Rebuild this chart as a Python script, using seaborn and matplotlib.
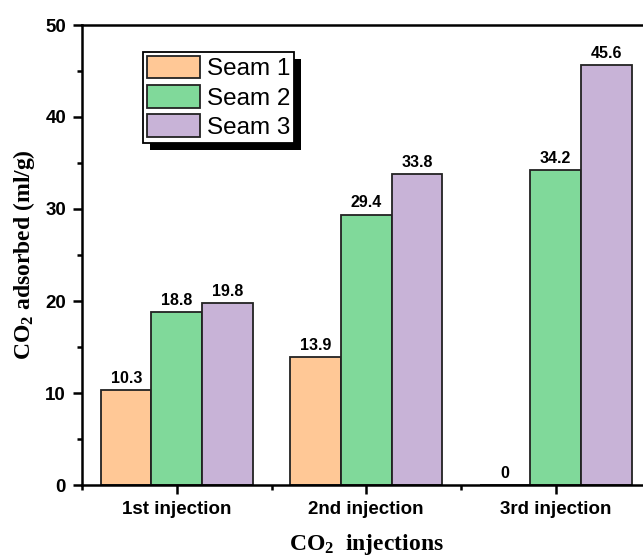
import matplotlib
matplotlib.use("Agg")
import matplotlib.pyplot as plt
import seaborn as sns
import pandas as pd
from matplotlib.patches import Rectangle
from matplotlib.ticker import MultipleLocator, FixedLocator

categories = ["1st injection", "2nd injection", "3rd injection"]
seams = ["Seam 1", "Seam 2", "Seam 3"]
seam1 = [10.3, 13.9, 0]
seam2 = [18.8, 29.4, 34.2]
seam3 = [19.8, 33.8, 45.6]
colors = ["#FFC896", "#80D99A", "#C8B3D7"]

df = pd.DataFrame({
    "injection": categories * 3,
    "seam": [s for s in seams for _ in categories],
    "value": seam1 + seam2 + seam3,
})

sns.set_style("ticks")
plt.rcParams["font.family"] = ["Liberation Sans", "DejaVu Sans"]
plt.rcParams["text.color"] = "black"
plt.rcParams["axes.labelcolor"] = "black"
plt.rcParams["xtick.color"] = "black"
plt.rcParams["ytick.color"] = "black"
plt.rcParams["mathtext.fontset"] = "custom"
plt.rcParams["mathtext.rm"] = "Liberation Serif:bold"
plt.rcParams["mathtext.it"] = "Liberation Serif:bold"
plt.rcParams["mathtext.bf"] = "Liberation Serif:bold"

fig = plt.figure(figsize=(6.43, 5.56), dpi=100)
ax = fig.add_axes([82 / 643, 71 / 556, 568.5 / 643, 460 / 556])

sns.barplot(data=df, x="injection", y="value", hue="seam", palette=colors,
            order=categories, hue_order=seams, edgecolor="#222222",
            linewidth=1.3, saturation=1, width=0.8, ax=ax, legend=True)

for cont in ax.containers:
    ax.bar_label(cont, fmt="%g", padding=3, fontsize=11.5, fontweight="bold",
                 color="black")

ax.set_xlim(-0.5, 2.5)
ax.set_ylim(0, 50)
ax.yaxis.set_major_locator(MultipleLocator(10))
ax.yaxis.set_minor_locator(MultipleLocator(5))
ax.xaxis.set_minor_locator(FixedLocator([-0.5, 0.5, 1.5, 2.5]))

for s in ["left", "top", "bottom", "right"]:
    ax.spines[s].set_linewidth(1.8)
    ax.spines[s].set_color("black")
    ax.spines[s].set_zorder(3)

ax.tick_params(axis="both", which="major", direction="out", length=6.5,
               width=1.8, labelsize=13.5, color="black", labelcolor="black")
ax.tick_params(axis="both", which="minor", direction="out", length=3.5,
               width=1.8, color="black")
ax.tick_params(axis="y", which="major", pad=5)
ax.tick_params(axis="x", which="major", pad=5)
for lab in ax.get_xticklabels() + ax.get_yticklabels():
    lab.set_fontweight("bold")

ax.set_xlabel("CO$_2$  injections", fontsize=17, fontweight="bold",
              family="Liberation Serif", labelpad=10, color="black")
ax.set_ylabel("CO$_2$ adsorbed (ml/g)", fontsize=17, fontweight="bold",
              family="Liberation Serif", labelpad=6, color="black")

leg = ax.legend(loc="upper left", bbox_to_anchor=(61 / 568.5, (485 - 52) / 460),
                fontsize=17.5, frameon=True, fancybox=False, shadow=False,
                handlelength=2.2, handleheight=1.05, labelspacing=0.2,
                borderpad=0.15, handletextpad=0.3, borderaxespad=0,
                title=None)
leg.get_frame().set_edgecolor("black")
leg.get_frame().set_linewidth(1.3)
leg.get_frame().set_alpha(1)
for t in leg.get_texts():
    t.set_color("black")
for h in leg.legend_handles:
    h.set_edgecolor("#222222")
    h.set_linewidth(1.3)

fig.canvas.draw()
bb = leg.get_window_extent()
inv = ax.transAxes.inverted()
off = 7
(x0, y0) = inv.transform((bb.x0 + off, bb.y0 - off))
(x1, y1) = inv.transform((bb.x1 + off, bb.y1 - off))
ax.add_patch(Rectangle((x0, y0), x1 - x0, y1 - y0, transform=ax.transAxes,
                       facecolor="black", edgecolor="none", zorder=4.9,
                       clip_on=False))
leg.set_zorder(5)

fig.savefig("out.png", dpi=100)
